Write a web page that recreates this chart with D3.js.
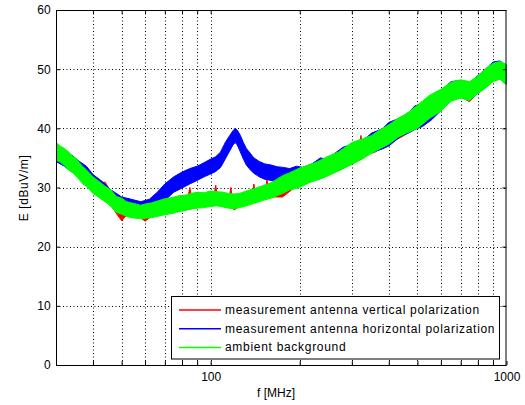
<!DOCTYPE html>
<html>
<head>
<meta charset="utf-8">
<script src="https://cdn.jsdelivr.net/npm/d3@7"></script>
<style>
  body { margin: 0; background: #fff; }
  text { font-family: "Liberation Sans", Arial, sans-serif; fill: #000; }
</style>
</head>
<body>
<svg id="chart" width="525" height="405"></svg>
<script>
// ambient background (green)
const gFreq = [30,31,32,33,34,35,36,37,38,40,42,44,46,48,50,52,54,56,58,60,63,66,70,74,78,82,86,90,95,100,105,110,115,120,125,130,140,150,160,175,185,200,215,230,250,270,300,325,350,375,400,430,460,500,550,600,650,700,750,800,850,900,950,1000]
const gHi = [37.6,37.0,36.6,36.1,35.3,35.0,34.2,33.5,33.0,31.8,31.0,30.2,29.6,28.5,28.2,27.6,27.4,27.2,27.0,27.2,27.4,27.7,28.1,28.3,28.6,28.7,29.0,29.2,29.1,29.4,29.3,29.2,29.0,28.9,29.0,29.3,29.8,30.3,30.8,32.0,32.5,33.3,33.8,34.4,35.3,36.0,37.6,38.2,38.8,39.8,40.6,41.7,42.5,43.9,45.6,46.6,47.8,48.2,47.9,48.8,50.1,51.0,51.3,50.8]
const gLo = [34.6,34.3,33.7,33.0,32.6,32.0,31.3,30.6,30.2,29.0,28.3,27.6,26.8,25.8,25.5,25.1,24.9,24.8,24.7,24.8,24.9,25.1,25.4,25.6,25.9,26.1,26.4,26.5,26.6,26.8,26.9,26.7,26.5,26.4,26.6,26.8,27.3,27.8,28.2,29.0,29.6,30.0,30.8,31.3,32.0,32.8,33.9,34.8,35.8,36.6,37.3,38.5,39.2,40.0,41.7,42.9,44.6,45.1,44.7,45.9,46.8,47.9,48.3,47.4]

// measurement antenna horizontal polarization (blue)
const bFreq = [30,32,34,36,38,40,43,46,50,54,58,62,66,70,75,80,85,90,95,100,104,108,112,116,119,121,123,126,129,132,136,140,146,152,160,168,176,185,195,205,220,235,245,260,280,300,330,350,380,400,440,470,490,520,560,600,650,700,750,800,850,900,950,1000]
const bHi = [37.2,36.4,35.4,34.4,33.6,32.2,31.0,29.6,28.4,28.0,27.6,28.0,29.2,30.6,31.8,32.6,33.2,33.6,34.2,34.8,35.2,36.0,37.6,38.8,39.6,40.0,39.7,38.8,37.6,36.6,35.8,35.0,34.4,34.0,33.8,33.5,33.4,33.2,33.6,33.4,34.0,35.0,34.8,35.6,36.8,37.3,38.1,39.2,39.9,41.0,41.8,42.8,43.8,44.1,45.6,46.4,47.9,48.1,47.7,48.9,50.0,51.2,51.4,50.6]
const bLo = [34.4,33.6,32.6,31.6,30.4,29.2,28.0,27.0,25.9,25.4,25.2,25.6,26.6,27.8,29.2,29.9,30.6,31.2,31.8,32.3,32.7,33.4,34.8,36.2,37.2,37.6,37.2,36.0,34.8,33.8,33.0,32.4,31.8,31.4,31.2,30.9,30.6,30.4,30.6,30.7,31.1,31.5,31.9,32.6,33.3,34.2,35.2,35.9,36.5,37.0,38.7,39.3,39.8,40.3,41.5,43.0,44.7,45.2,44.8,45.9,46.9,48.0,48.4,47.4]

// measurement antenna vertical polarization (red)
const rFreq = [30,32,34,36,38,40,42,44,46,48,50,52,55,58,60,63,65,66,67,70,75,80,84,85,86,90,95,100,103,104,105,110,115,116,117,118,120,125,130,135,139,140,141,150,154,155,156,160,175,190,210,230,250,275,300,320,322,324,340,360,400,440,480,520,560,600,650,700,750,800,850,900,950,1000]
const rHi = [37.0,36.2,35.0,34.0,32.8,31.6,30.8,30.9,29.3,28.3,27.9,27.4,27.0,26.8,27.0,27.2,27.4,28.9,27.4,27.9,28.1,28.4,28.6,30.0,28.7,29.0,28.9,29.2,29.1,30.4,29.0,29.0,28.8,28.8,30.0,28.7,28.7,28.8,29.1,29.3,29.6,30.6,29.6,30.1,30.3,31.4,30.4,30.6,31.8,32.4,33.2,34.2,35.1,36.0,37.3,37.9,38.8,37.9,38.4,39.0,40.4,41.5,42.3,43.6,45.3,46.4,47.6,48.0,47.7,48.6,49.9,50.8,51.1,50.6]
const rLo = [34.8,33.9,32.8,31.5,30.4,29.2,28.5,27.8,27.0,25.6,24.4,25.3,25.0,24.9,24.3,25.1,25.2,25.3,25.3,25.6,25.9,26.1,26.3,26.3,26.4,26.7,26.8,27.0,27.1,27.1,27.1,26.9,26.7,26.7,26.6,26.6,26.2,26.8,27.0,27.3,27.5,27.5,27.6,28.0,28.1,28.1,28.2,28.4,28.4,29.8,30.7,31.5,32.2,33.0,34.1,34.7,34.8,34.8,35.6,36.0,37.5,38.5,39.6,40.6,41.9,43.1,44.8,45.3,44.5,46.1,47.0,48.1,48.5,47.6]

const xGrid = [40,50,60,70,80,90,100,200,300,400,500,600,700,800,900]
const xTickLabels = [100,1000]
const yTicks = [0,10,20,30,40,50,60]

const series = [
    {name: "measurement antenna vertical polarization", color: "#ff0000", f: rFreq, hi: rHi, lo: rLo},
    {name: "measurement antenna horizontal polarization", color: "#0000ff", f: bFreq, hi: bHi, lo: bLo},
    {name: "ambient background", color: "#00ff00", f: gFreq, hi: gHi, lo: gLo}
]

const svg = d3.select("#chart")
const pLeft = 56, pRight = 506.5, pTop = 10, pBottom = 365

const x = d3.scaleLog().domain([30, 1000]).range([pLeft, pRight])
const y = d3.scaleLinear().domain([0, 60]).range([pBottom, pTop])

svg.append("rect").attr("width", 525).attr("height", 405).attr("fill", "#fff")

//grid
const grid = svg.append("g").attr("stroke", "#000").attr("stroke-width", 1).attr("stroke-dasharray", "1,2.5")
grid.selectAll(".vg").data(xGrid).enter().append("line")
    .attr("x1", d => Math.round(x(d)) + 0.5).attr("x2", d => Math.round(x(d)) + 0.5)
    .attr("y1", pTop).attr("y2", pBottom)
grid.selectAll(".hg").data(yTicks.slice(1, -1)).enter().append("line")
    .attr("y1", d => Math.round(y(d)) + 0.5).attr("y2", d => Math.round(y(d)) + 0.5)
    .attr("x1", pLeft).attr("x2", pRight)

//clip for traces
svg.append("clipPath").attr("id", "clip").append("rect")
    .attr("x", pLeft).attr("y", pTop).attr("width", pRight - pLeft).attr("height", pBottom - pTop)

const area = d3.area()
    .x(d => x(d.f)).y0(d => y(d.lo)).y1(d => y(d.hi))

const traces = svg.append("g").attr("clip-path", "url(#clip)")
series.forEach(s => {
    const pts = s.f.map((f, i) => ({f: f, hi: s.hi[i], lo: s.lo[i]}))
    traces.append("path").datum(pts)
        .attr("d", area)
        .attr("fill", s.color)
        .attr("stroke", s.color)
        .attr("stroke-width", 1)
})

//axes frame with ticks
const axB = d3.axisBottom(x).tickValues(xGrid.concat([1000])).tickSize(-4).tickFormat(d => xTickLabels.includes(d) ? d : "")
const axT = d3.axisTop(x).tickValues(xGrid).tickSize(-4).tickFormat("")
const axL = d3.axisLeft(y).tickValues(yTicks).tickSize(-4)
const axR = d3.axisRight(y).tickValues(yTicks).tickSize(-4).tickFormat("")

function styleAxis(g) {
    g.select(".domain").remove()
    g.selectAll("line").attr("stroke", "#000")
    g.selectAll("text").attr("font-size", 12).attr("font-family", "Liberation Sans, Arial, sans-serif")
}
svg.append("g").attr("transform", `translate(0,${pBottom})`).call(axB).call(styleAxis)
    .selectAll("text").attr("dy", "1.05em")
svg.append("g").attr("transform", `translate(0,${pTop})`).call(axT).call(styleAxis)
svg.append("g").attr("transform", `translate(${pLeft},0)`).call(axL).call(styleAxis)
    .selectAll("text").attr("dx", "-0.2em")
svg.append("g").attr("transform", `translate(${pRight},0)`).call(axR).call(styleAxis)

svg.append("rect").attr("x", pLeft + 0.5).attr("y", pTop + 0.5)
    .attr("width", pRight - pLeft - 1).attr("height", pBottom - pTop)
    .attr("fill", "none").attr("stroke", "#000")

//axis labels
svg.append("text").attr("x", 276).attr("y", 397).attr("text-anchor", "middle")
    .attr("font-size", 12).text("f [MHz]")
svg.append("text").attr("transform", "translate(28,188) rotate(-90)").attr("text-anchor", "middle")
    .attr("font-size", 12).attr("letter-spacing", 0.6).text("E [dBuV/m]")

//legend
const lg = svg.append("g")
lg.append("rect").attr("x", 171.5).attr("y", 296.5).attr("width", 328).attr("height", 62.5)
    .attr("fill", "#fff").attr("stroke", "#000")
series.forEach((s, i) => {
    const ly = 310 + i * 18.7
    lg.append("line").attr("x1", 179).attr("x2", 221).attr("y1", ly).attr("y2", ly)
        .attr("stroke", s.color).attr("stroke-width", 1.5)
    lg.append("text").attr("x", 225).attr("y", ly + 4).attr("font-size", 12)
        .attr("letter-spacing", 0.7).text(s.name)
})
</script>
</body>
</html>
